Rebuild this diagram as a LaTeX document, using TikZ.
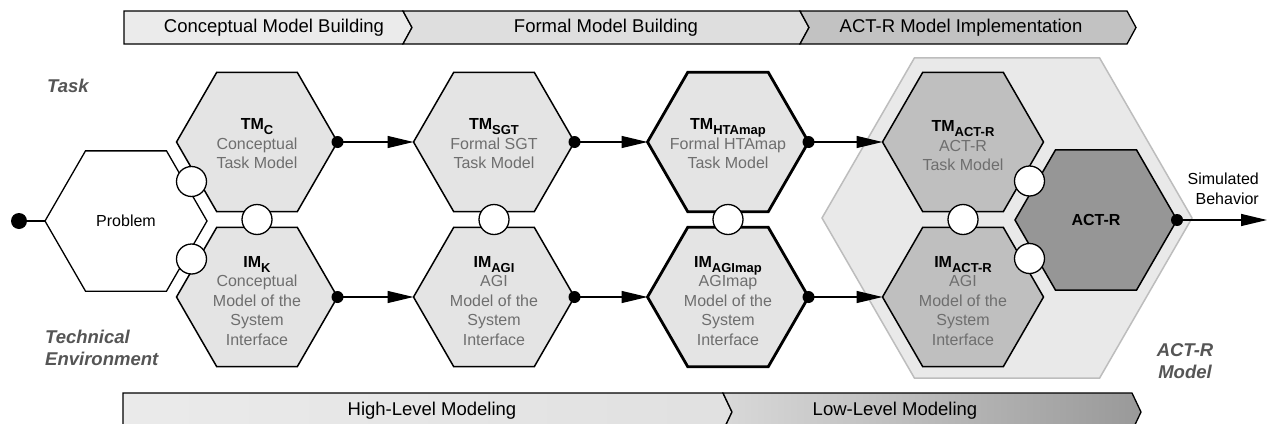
\documentclass[tikz,border=0pt]{standalone}
\usepackage{fontspec}
\setmainfont{Liberation Sans}
\usetikzlibrary{arrows.meta,calc}

\definecolor{hexlight}{HTML}{E4E4E4}
\definecolor{hexmid}{HTML}{BFBFBF}
\definecolor{hexdark}{HTML}{969696}
\definecolor{groupfill}{HTML}{E9E9E9}
\definecolor{groupline}{HTML}{BDBDBD}
\definecolor{bodygray}{HTML}{6E6E6E}
\definecolor{sidegray}{HTML}{555555}

% lowered, smaller index for model names
\newcommand\lowidx[1]{\raisebox{-0.3em}{\fontsize{13}{13}\selectfont #1}}
\newcommand\mtitle[2]{{\color{black}\bfseries #1\lowidx{#2}}}

% flat-topped hexagon: a named frame node plus its outline
% #1 outline style, #2 name, #3 centre, #4 corner-to-corner width
\newcommand\hexnode[4][]{%
  \node[hexbox, minimum width=#4pt, minimum height=0.866*#4pt] (#2) at (#3) {};
  \filldraw[#1] (#2.west)
    -- ($(#2.north west)!.25!(#2.north east)$)
    -- ($(#2.north west)!.75!(#2.north east)$)
    -- (#2.east)
    -- ($(#2.south west)!.75!(#2.south east)$)
    -- ($(#2.south west)!.25!(#2.south east)$)
    -- cycle;
}

\begin{document}
\begin{tikzpicture}[x=1pt,y=-1pt,
  hexbox/.style={rectangle, inner sep=0pt, outer sep=0pt},
  hexa/.style={draw=black, line width=1.5pt, line join=miter},
  stagea/.style={hexa, fill=hexlight},
  stageb/.style={hexa, fill=hexlight, line width=2.8pt},
  stagec/.style={hexa, fill=hexmid},
  joint/.style={circle, draw=black, fill=white, line width=1.3pt,
    minimum size=30pt, inner sep=0pt},
  flow/.style={line width=1.3pt, -{Triangle[length=26pt,width=12pt]}},
  hextext/.style={align=center, font=\fontsize{16}{19.5}\selectfont,
    text=bodygray, inner sep=0pt},
  sidelabel/.style={font=\fontsize{18.5}{22}\selectfont\bfseries\itshape,
    text=sidegray, inner sep=0pt},
  bannertext/.style={font=\fontsize{18.5}{22}\selectfont, inner sep=0pt},
  bannerline/.style={draw=black, line width=1.3pt, line join=miter},
]
\useasboundingbox (0,0) rectangle (1268,423);
\fill[white] (0,0) rectangle (1268,423);
\clip (0,0) rectangle (1268,423);

% ---- phase banner (top)
\filldraw[bannerline, fill=black!8]
  (124,11) -- (403,11) -- (412,27.5) -- (403,44) -- (124,44) -- cycle;
\filldraw[bannerline, fill=black!13]
  (403,11) -- (800,11) -- (809,27.5) -- (800,44) -- (403,44) -- (412,27.5) -- cycle;
\filldraw[bannerline, fill=black!24]
  (800,11) -- (1127,11) -- (1136,27.5) -- (1127,44) -- (800,44) -- (809,27.5) -- cycle;
\node[bannertext] (ph1) at (274,28) {Conceptual Model Building};
\node[bannertext] (ph2) at (606,28) {Formal Model Building};
\node[bannertext] (ph3) at (961,28) {ACT-R Model Implementation};

% ---- level banner (bottom)
\draw[bannerline, left color=black!8, right color=black!12]
  (123,393) -- (723,393) -- (732,412) -- (723,431) -- (123,431) -- cycle;
\draw[bannerline, left color=black!15, right color=black!40]
  (723,393) -- (1132,393) -- (1141,412) -- (1132,431) -- (723,431) -- (732,412) -- cycle;
\node[bannertext] (lv1) at (432,411) {High-Level Modeling};
\node[bannertext] (lv2) at (895,411) {Low-Level Modeling};

% ---- ACT-R model group
\hexnode[fill=groupfill, draw=groupline, line width=1.5pt]{group}{1007,218}{370}

% ---- model hexagons
\hexnode[hexa, fill=white, line width=1.3pt]{problem}{126,221}{162}
\hexnode[stagea]{tmc}{257,142}{161}
\hexnode[stagea]{imk}{257,297}{161}
\hexnode[stagea]{tmsgt}{494,142}{161}
\hexnode[stagea]{imagi}{494,297}{161}
\hexnode[stageb]{tmhta}{728,142}{161}
\hexnode[stageb]{imagim}{728,297}{161}
\hexnode[stagec]{tmact}{963,142}{161}
\hexnode[stagec]{imact}{963,297}{161}
\hexnode[hexa, fill=hexdark]{actr}{1096,220}{162}

% ---- hexagon texts
\node[hextext, text=black] (problem-t) at (problem) {Problem};
\node[hextext] (tmc-t) at ($(tmc)+(0,2)$) {\mtitle{TM}{C}\\Conceptual\\Task Model};
\node[hextext] (imk-t) at ($(imk)+(0,4)$) {\mtitle{IM}{K}\\Conceptual\\Model of the\\System\\Interface};
\node[hextext] (tmsgt-t) at ($(tmsgt)+(0,2)$) {\mtitle{TM}{SGT}\\Formal SGT\\Task Model};
\node[hextext] (imagi-t) at ($(imagi)+(0,4)$) {\mtitle{IM}{AGI}\\AGI\\Model of the\\System\\Interface};
\node[hextext] (tmhta-t) at ($(tmhta)+(0,2)$) {\mtitle{TM}{HTAmap}\\Formal HTAmap\\Task Model};
\node[hextext] (imagim-t) at ($(imagim)+(0,4)$) {\mtitle{IM}{AGImap}\\AGImap\\Model of the\\System\\Interface};
\node[hextext] (tmact-t) at ($(tmact)+(0,4)$) {\mtitle{TM}{ACT-R}\\ACT-R\\Task Model};
\node[hextext] (imact-t) at ($(imact)+(0,4)$) {\mtitle{IM}{ACT-R}\\AGI\\Model of the\\System\\Interface};
\node[hextext, text=black, font=\fontsize{16}{19.5}\selectfont\bfseries] (actr-t) at (actr) {ACT-R};

% ---- interface joints
\node[joint] (j1) at ($(problem)!0.5!(tmc)$) {};
\node[joint] (j2) at ($(problem)!0.5!(imk)$) {};
\node[joint] (j3) at ($(tmc)!0.5!(imk)$) {};
\node[joint] (j4) at ($(tmsgt)!0.5!(imagi)$) {};
\node[joint] (j5) at ($(tmhta)!0.5!(imagim)$) {};
\node[joint] (j6) at ($(tmact)!0.5!(imact)$) {};
\node[joint] (j7) at ($(tmact)!0.5!(actr)$) {};
\node[joint] (j8) at ($(imact)!0.5!(actr)$) {};

% ---- transformations
\coordinate (input) at (19,221);
\coordinate (output) at (1267,220);
\draw[line width=1.3pt] (input) -- (problem.west);
\fill (input) circle (8pt);
\foreach \a/\b in {tmc/tmsgt, tmsgt/tmhta, tmhta/tmact,
                   imk/imagi, imagi/imagim, imagim/imact} {
  \draw[flow] (\a.east) -- (\b.west);
  \fill (\a.east) circle (6pt);
}
\draw[flow] (actr.east) -- (output);
\fill (actr.east) circle (6pt);

% ---- side labels
\node[sidelabel, anchor=west] (lab-task) at (47,86) {Task};
\node[sidelabel, anchor=west, align=left] (lab-env) at (45,348) {Technical\\Environment};
\node[sidelabel, align=center] (lab-actr) at (1185,361) {ACT-R\\Model};
\node[hextext, text=black, anchor=east, align=right] (lab-sim) at (1259,189) {Simulated\\Behavior};
\end{tikzpicture}
\end{document}
